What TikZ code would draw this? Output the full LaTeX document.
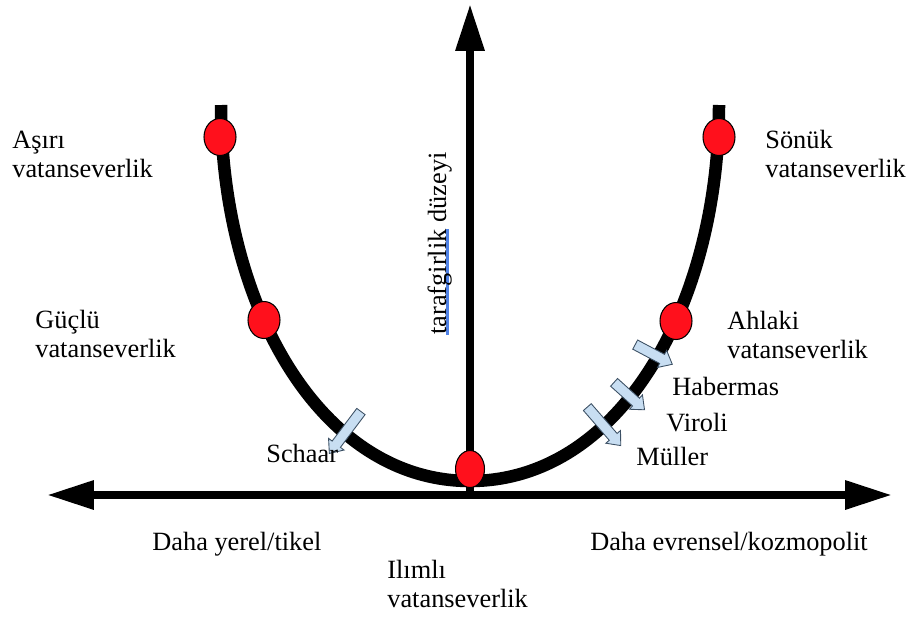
\documentclass[tikz,border=0pt]{standalone}
\usepackage{fontspec}
\setmainfont{Liberation Serif}
\usepackage{calc}
\usetikzlibrary{arrows.meta, shapes.geometric, shapes.arrows}
\definecolor{dotred}{RGB}{255, 16, 28}
\definecolor{notefill}{RGB}{200, 222, 242}
\definecolor{noteline}{RGB}{60, 80, 100}
\definecolor{spellblue}{RGB}{80, 130, 230}
\newcommand{\spellmark}[1]{\rlap{\textcolor{spellblue}{\rule[-1.7pt]{\widthof{#1}}{1.5pt}}}#1}

\begin{document}
\begin{tikzpicture}[x=0.02cm, y=-0.02cm,
    every node/.style={font=\fontsize{15}{16}\selectfont, inner sep=0pt},
    txt/.style={anchor=base west, align=left},
    leveldot/.style={ellipse, draw=black, line width=0.6pt, fill=dotred,
        minimum width=0.64cm, minimum height=0.74cm},
    thinker/.style={single arrow, draw=noteline, line width=0.5pt, fill=notefill,
        inner xsep=0pt, inner ysep=0.095cm, minimum width=0pt,
        single arrow head extend=0.09cm, single arrow tip angle=80},
    axisline/.style={line width=4.5pt}]
    \useasboundingbox (0,0) rectangle (912,619);

    % eksenler
    \coordinate (origin) at (470,495);
    \coordinate (west) at (47,495);
    \coordinate (east) at (892,495);
    \coordinate (top) at (470,4);
    \draw[axisline, {Triangle[length=0.94cm, width=0.55cm]}-{Triangle[length=0.94cm, width=0.55cm]}] (west) -- (east);
    \draw[axisline, -{Triangle[length=0.94cm, width=0.55cm]}] (origin) -- (top);

    % egri
    \draw[line width=0.25cm] (221,105) .. controls (221,305) and (320,481) .. (470,481)
        .. controls (620,481) and (719,305) .. (719,105);

    % noktalar
    \node[leveldot] (asiridot) at (220,137) {};
    \node[leveldot] (gucludot) at (264,320) {};
    \node[leveldot, minimum width=0.58cm] (ilimlidot) at (470,469) {};
    \node[leveldot] (ahlakidot) at (676,321) {};
    \node[leveldot] (sonukdot) at (719,137) {};

    % dusunurler
    \node[thinker, rotate=233, minimum height=1.05cm] (schaarmark) at (347,430) {};
    \node[thinker, rotate=-28, minimum height=0.84cm] (habermasmark) at (651,353) {};
    \node[thinker, rotate=-42, minimum height=0.82cm] (virolimark) at (627,394) {};
    \node[thinker, rotate=-49, minimum height=1.02cm] (mullermark) at (602,424) {};

    % yazilar
    \node[txt] (asiri) at (12,177) {Aşırı\\vatanseverlik};
    \node[txt] (guclu) at (35,357) {Güçlü\\vatanseverlik};
    \node[txt] (sonuk) at (765,177) {Sönük\\vatanseverlik};
    \node[txt] (ahlaki) at (727,358) {Ahlaki\\vatanseverlik};
    \node[txt] (habermas) at (672,395) {Habermas};
    \node[txt] (viroli) at (666,431) {Viroli};
    \node[txt] (muller) at (636,465) {Müller};
    \node[txt] (schaar) at (266,462) {Schaar};
    \node[txt] (yerel) at (152,550) {Daha yerel/tikel};
    \node[txt] (evrensel) at (590,550) {Daha evrensel/kozmopolit};
    \node[txt] (ilimli) at (387,607) {Ilımlı\\vatanseverlik};
    \node[anchor=base west, rotate=90] (duzey) at (446,335) {\spellmark{tarafgirlik} düzeyi};
\end{tikzpicture}
\end{document}
